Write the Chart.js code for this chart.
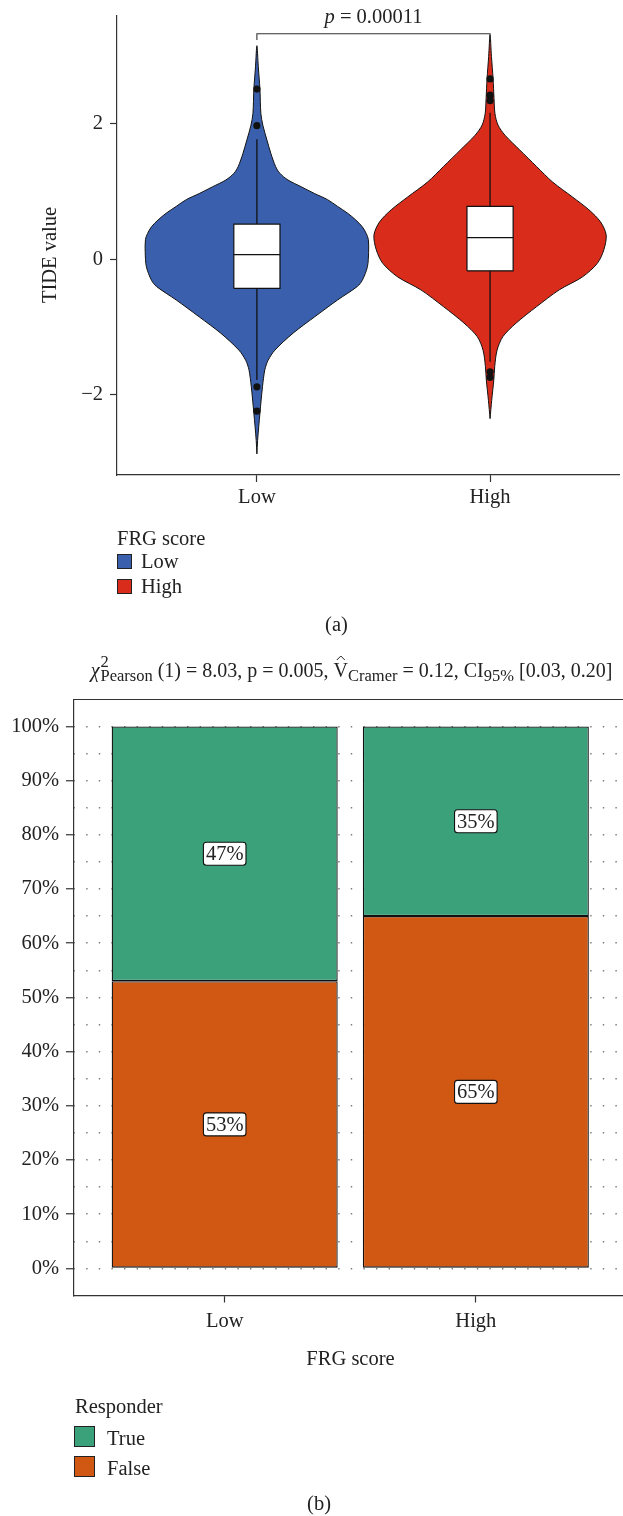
<!DOCTYPE html>
<html>
<head>
<meta charset="utf-8">
<script src="https://cdn.jsdelivr.net/npm/chart.js@4.4.1/dist/chart.umd.min.js"></script>
<style>
  html, body { margin: 0; padding: 0; background: #ffffff; }
  #wrap { position: relative; width: 623px; height: 1516px; overflow: hidden; }
  #ca { position: absolute; left: 0; top: 0; }
  #cb { position: absolute; left: 0; top: 640px; }
</style>
</head>
<body>
<div id="wrap">
  <canvas id="ca" width="623" height="640"></canvas>
  <canvas id="cb" width="623" height="876"></canvas>
</div>
<script>
// ================= Panel (a) data =================
const groups = ['Low', 'High'];
const legendTitleA = 'FRG score';
const yTitleA = 'TIDE value';
const yTicksA = [-2, 0, 2];
const pValueA = '0.00011';

// violin outlines: value levels (top -> bottom) and half-widths (x units)
const lowViolinY  = [3.15, 2.84, 2.51, 2.15, 1.97, 1.76, 1.56, 1.37, 1.27, 1.17, 1.07, 0.97, 0.88, 0.78, 0.68, 0.58, 0.48, 0.38, 0.29, 0.10, -0.11, -0.31, -0.40, -0.60, -0.85, -1.09, -1.34, -1.49, -1.63, -1.88, -2.27, -2.67, -2.87];
const lowViolinHW = [0, 0.006, 0.013, 0.017, 0.026, 0.043, 0.060, 0.080, 0.098, 0.133, 0.190, 0.247, 0.303, 0.346, 0.389, 0.424, 0.452, 0.469, 0.478, 0.479, 0.474, 0.452, 0.431, 0.346, 0.247, 0.155, 0.077, 0.048, 0.034, 0.024, 0.013, 0.003, 0];
const highViolinY  = [3.31, 2.99, 2.66, 2.37, 2.15, 1.98, 1.83, 1.61, 1.37, 1.14, 0.92, 0.73, 0.55, 0.36, 0.14, -0.06, -0.26, -0.45, -0.70, -0.94, -1.14, -1.34, -1.58, -1.78, -2.08, -2.35];
const highViolinHW = [0, 0.006, 0.013, 0.017, 0.021, 0.034, 0.064, 0.128, 0.199, 0.268, 0.353, 0.424, 0.474, 0.498, 0.488, 0.460, 0.396, 0.297, 0.199, 0.112, 0.055, 0.030, 0.020, 0.016, 0.007, 0];

// box stats: [lower whisker, Q1, median, Q3, upper whisker]
const lowBox  = [-1.78, -0.43, 0.07, 0.52, 1.77];
const highBox = [-1.51, -0.17, 0.32, 0.78, 2.16];
const lowOutliers  = [2.51, 1.97, -1.88, -2.24];
const highOutliers = [2.66, 2.42, 2.34, -1.66, -1.74];
const bracketY = [3.235, 3.327];

// ================= Panel (b) data =================
const frgCategories = ['Low', 'High'];
const responderLevels = ['True', 'False'];
const responderTrue  = [47, 35];
const responderFalse = [53, 65];
const yTicksB = [0, 5, 10, 15, 20, 25, 30, 35, 40, 45, 50, 55, 60, 65, 70, 75, 80, 85, 90, 95, 100];
const xTitleB = 'FRG score';
const legendTitleB = 'Responder';
const statsB = { df: '1', chi: '8.03', p: '0.005', v: '0.12', ciLo: '0.03', ciHi: '0.20' };

// ================= styles =================
const FF = "'Liberation Serif', 'DejaVu Serif', serif";
const FS = 20.5;
const TEXT = '#222222';
const AXIS = '#333333';
const groupColors = ['#3A60AD', '#D92C1B'];
const responderColors = ['#3AA17B', '#D05813'];
const BOX_HW = 0.099;

Chart.defaults.font.family = FF;
Chart.defaults.font.size = FS;
Chart.defaults.color = TEXT;

// ---------- build panel (a) datasets ----------
function violinPolygon(center, ys, hws) {
  const pts = [];
  for (let i = ys.length - 1; i >= 0; i--) pts.push({ x: center + hws[i], y: ys[i] });
  for (let i = 1; i < ys.length; i++) pts.push({ x: center - hws[i], y: ys[i] });
  return pts;
}
function boxPolygon(center, q1, q3) {
  return [
    { x: center - BOX_HW, y: q1 }, { x: center + BOX_HW, y: q1 },
    { x: center + BOX_HW, y: q3 }, { x: center - BOX_HW, y: q3 },
    { x: center - BOX_HW, y: q1 }
  ];
}
const violinData = [[lowViolinY, lowViolinHW], [highViolinY, highViolinHW]];
const boxData = [lowBox, highBox];
const outlierData = [lowOutliers, highOutliers];
const datasetsA = [];
groups.forEach((g, i) => {
  const c = i + 1;
  datasetsA.push({
    label: g + ' violin', data: violinPolygon(c, violinData[i][0], violinData[i][1]),
    showLine: true, fill: 'shape', backgroundColor: groupColors[i], borderColor: '#111',
    borderWidth: 1, pointRadius: 0, tension: 0.3, order: 6
  });
  const b = boxData[i];
  datasetsA.push({
    label: g + ' whisker', data: [{ x: c, y: b[0] }, { x: c, y: b[4] }],
    showLine: true, fill: false, borderColor: '#111', borderWidth: 1.3, pointRadius: 0, order: 5
  });
  datasetsA.push({
    label: g + ' box', data: boxPolygon(c, b[1], b[3]),
    showLine: true, fill: 'shape', backgroundColor: '#ffffff', borderColor: '#111',
    borderWidth: 1.2, pointRadius: 0, tension: 0, order: 4
  });
  datasetsA.push({
    label: g + ' median', data: [{ x: c - BOX_HW, y: b[2] }, { x: c + BOX_HW, y: b[2] }],
    showLine: true, fill: false, borderColor: '#111', borderWidth: 1.2, pointRadius: 0, order: 3
  });
  datasetsA.push({
    label: g + ' outliers', data: outlierData[i].map(v => ({ x: c, y: v })),
    showLine: false, pointRadius: 3.6, pointBackgroundColor: '#111', pointBorderWidth: 0, order: 2
  });
});
datasetsA.push({
  label: 'bracket',
  data: [{ x: 1, y: bracketY[0] }, { x: 1, y: bracketY[1] }, { x: 2, y: bracketY[1] }, { x: 2, y: bracketY[0] }],
  showLine: true, fill: false, borderColor: AXIS, borderWidth: 1.1, pointRadius: 0, order: 1
});

const textPluginA = {
  id: 'textA',
  afterDraw(chart) {
    const { ctx, scales } = chart;
    const xs = scales.x, ys = scales.y;
    ctx.save();
    ctx.fillStyle = TEXT;
    // y title
    ctx.save();
    ctx.translate(51, 255);
    ctx.rotate(-Math.PI / 2);
    ctx.font = `${FS}px ${FF}`;
    ctx.textAlign = 'center';
    ctx.textBaseline = 'middle';
    ctx.fillText(yTitleA, 0, 0);
    ctx.restore();
    // p-value
    const cx = (xs.getPixelForValue(1) + xs.getPixelForValue(2)) / 2;
    const by = ys.getPixelForValue(bracketY[1]) - 10.5;
    ctx.textBaseline = 'alphabetic';
    ctx.font = `italic ${FS}px ${FF}`;
    const pw = ctx.measureText('p').width;
    ctx.font = `${FS}px ${FF}`;
    const rest = ' = ' + pValueA;
    const rw = ctx.measureText(rest).width;
    const x0 = cx - (pw + rw) / 2;
    ctx.font = `italic ${FS}px ${FF}`;
    ctx.textAlign = 'left';
    ctx.fillText('p', x0, by);
    ctx.font = `${FS}px ${FF}`;
    ctx.fillText(rest, x0 + pw, by);
    // legend
    ctx.fillText(legendTitleA, 117, 545);
    groups.forEach((g, i) => {
      const cy = 561.5 + 25 * i;
      ctx.fillStyle = groupColors[i];
      ctx.fillRect(117, cy - 7.5, 15, 15);
      ctx.strokeStyle = '#222';
      ctx.lineWidth = 1;
      ctx.strokeRect(117.5, cy - 7, 14, 14);
      ctx.fillStyle = TEXT;
      ctx.fillText(g, 141, cy + 6.5);
    });
    // panel label
    ctx.textAlign = 'center';
    ctx.fillText('(a)', 336.5, 631);
    ctx.restore();
  }
};

new Chart(document.getElementById('ca'), {
  type: 'scatter',
  data: { datasets: datasetsA },
  options: {
    responsive: false, animation: false, devicePixelRatio: 1,
    layout: { padding: { top: 16, right: 0, bottom: 125, left: 0 } },
    plugins: { legend: { display: false }, tooltip: { enabled: false } },
    scales: {
      x: {
        type: 'linear', min: 0.4, max: 2.553,
        afterBuildTicks: s => { s.ticks = groups.map((g, i) => ({ value: i + 1 })); },
        afterFit: s => { s.height = 40; s.paddingLeft = 0; s.paddingRight = 0; },
        ticks: { callback: v => groups[v - 1], padding: 3, color: TEXT, font: { size: FS, family: FF }, maxRotation: 0, autoSkip: false },
        grid: { display: true, offset: false, drawOnChartArea: false, drawTicks: true, tickLength: 7, tickColor: AXIS, tickWidth: 1.2 },
        border: { display: true, color: AXIS, width: 1.2 }
      },
      y: {
        type: 'linear', min: -3.181, max: 3.588,
        afterBuildTicks: s => { s.ticks = yTicksA.map(v => ({ value: v })); },
        afterFit: s => { s.width = 117; s.paddingTop = 0; s.paddingBottom = 0; },
        ticks: { callback: v => (v < 0 ? '\u2212' + Math.abs(v) : String(v)), padding: 7, color: TEXT, font: { size: FS, family: FF } },
        grid: { display: true, drawOnChartArea: false, drawTicks: true, tickLength: 7, tickColor: AXIS, tickWidth: 1.2 },
        border: { display: true, color: AXIS, width: 1.2 }
      }
    }
  },
  plugins: [textPluginA]
});

// ---------- panel (b) ----------
const textPluginB = {
  id: 'textB',
  afterDatasetsDraw(chart) {
    const { ctx } = chart;
    ctx.save();
    ctx.font = `${FS}px ${FF}`;
    chart.data.datasets.forEach((ds, di) => {
      const meta = chart.getDatasetMeta(di);
      meta.data.forEach((el, i) => {
        const v = ds.data[i].y;
        const txt = Math.round(v) + '%';
        const cx = el.x, cy = (el.y + el.base) / 2;
        const w = ctx.measureText(txt).width + 5, h = 23;
        ctx.beginPath();
        ctx.roundRect(cx - w / 2, cy - h / 2, w, h, 3);
        ctx.fillStyle = '#ffffff';
        ctx.fill();
        ctx.strokeStyle = '#111';
        ctx.lineWidth = 1.1;
        ctx.stroke();
        ctx.fillStyle = TEXT;
        ctx.textAlign = 'center';
        ctx.textBaseline = 'middle';
        ctx.fillText(txt, cx, cy + 1);
      });
    });
    ctx.restore();
  },
  afterDraw(chart) {
    const { ctx, chartArea } = chart;
    ctx.save();
    // top frame line
    ctx.strokeStyle = AXIS;
    ctx.lineWidth = 1.2;
    ctx.beginPath();
    ctx.moveTo(chartArea.left, Math.round(chartArea.top) + 0.5);
    ctx.lineTo(chartArea.right, Math.round(chartArea.top) + 0.5);
    ctx.stroke();

    ctx.fillStyle = TEXT;
    ctx.textBaseline = 'alphabetic';
    ctx.textAlign = 'left';
    // title with sub/superscripts
    const main = `20px ${FF}`, small = `16.5px ${FF}`, ital = `italic 20px ${FF}`;
    const parts = [
      { t: '\u03C7', f: ital, dy: 0 },
      { stack: true, sup: '2', sub: 'Pearson' },
      { t: ' (' + statsB.df + ') = ' + statsB.chi + ', p = ' + statsB.p + ', ', f: main, dy: 0 },
      { t: 'V', f: main, dy: 0, hat: true },
      { t: 'Cramer', f: small, dy: 4 },
      { t: ' = ' + statsB.v + ', CI', f: main, dy: 0 },
      { t: '95%', f: small, dy: 4 },
      { t: ' [' + statsB.ciLo + ', ' + statsB.ciHi + ']', f: main, dy: 0 }
    ];
    const widthOf = p => {
      if (p.stack) {
        ctx.font = small;
        return Math.max(ctx.measureText(p.sup).width, ctx.measureText(p.sub).width) + 1;
      }
      ctx.font = p.f;
      return ctx.measureText(p.t).width;
    };
    const total = parts.reduce((s, p) => s + widthOf(p), 0);
    let x = (chartArea.left + chartArea.right) / 2 + 3 - total / 2;
    const base = 37;
    parts.forEach(p => {
      const w = widthOf(p);
      if (p.stack) {
        ctx.font = small;
        ctx.fillText(p.sup, x + 1, base - 10);
        ctx.fillText(p.sub, x + 1, base + 4);
      } else {
        ctx.font = p.f;
        ctx.fillText(p.t, x, base + p.dy);
        if (p.hat) {
          const hx = x + w / 2;
          ctx.strokeStyle = TEXT;
          ctx.lineWidth = 1;
          ctx.beginPath();
          ctx.moveTo(hx - 4, base - 17);
          ctx.lineTo(hx, base - 21);
          ctx.lineTo(hx + 4, base - 17);
          ctx.stroke();
        }
      }
      x += w;
    });

    // x title
    ctx.font = `${FS}px ${FF}`;
    ctx.textAlign = 'center';
    ctx.fillText(xTitleB, (chartArea.left + chartArea.right) / 2 + 2, 725);
    // legend
    ctx.textAlign = 'left';
    ctx.fillText(legendTitleB, 75, 773);
    responderLevels.forEach((lv, i) => {
      const top = 786 + 30 * i;
      ctx.fillStyle = responderColors[i];
      ctx.fillRect(74, top, 21, 21);
      ctx.strokeStyle = '#222';
      ctx.lineWidth = 1;
      ctx.strokeRect(74.5, top + 0.5, 20, 20);
      ctx.fillStyle = TEXT;
      ctx.fillText(lv, 107, top + 19);
    });
    // panel label
    ctx.textAlign = 'center';
    ctx.fillText('(b)', 319, 870);
    ctx.restore();
  }
};

const barValues = [responderTrue, responderFalse];
new Chart(document.getElementById('cb'), {
  type: 'bar',
  data: {
    datasets: [1, 0].map(k => ({
      label: responderLevels[k],
      data: frgCategories.map((c, i) => ({ x: i + 1, y: barValues[k][i] })),
      backgroundColor: responderColors[k],
      borderColor: '#111111',
      borderWidth: 1.3,
      borderSkipped: false,
      inflateAmount: 0,
      categoryPercentage: 1,
      barPercentage: 0.9
    }))
  },
  options: {
    responsive: false, animation: false, devicePixelRatio: 1,
    layout: { padding: { top: 59.3, right: 0, bottom: 180.5, left: 0 } },
    plugins: { legend: { display: false }, tooltip: { enabled: false } },
    scales: {
      x: {
        type: 'linear', stacked: true, min: 0.4, max: 2.586, offset: false,
        afterBuildTicks: s => { s.ticks = frgCategories.map((c, i) => ({ value: i + 1 })); },
        afterFit: s => { s.height = 40; s.paddingLeft = 0; s.paddingRight = 0; },
        ticks: { callback: v => frgCategories[v - 1], padding: 6.5, color: TEXT, font: { size: FS, family: FF }, maxRotation: 0, autoSkip: false },
        grid: { display: true, offset: false, drawOnChartArea: false, drawTicks: true, tickLength: 7, tickColor: AXIS, tickWidth: 1.2 },
        border: { display: true, color: AXIS, width: 1.2 }
      },
      y: {
        type: 'linear', stacked: true, min: -5, max: 105,
        afterBuildTicks: s => { s.ticks = yTicksB.map(v => ({ value: v })); },
        afterFit: s => { s.width = 74; s.paddingTop = 0; s.paddingBottom = 0; },
        ticks: { callback: v => (v % 10 === 0 ? v + '%' : ''), padding: 7, color: TEXT, font: { size: FS, family: FF }, autoSkip: false },
        grid: {
          display: true, offset: false, drawOnChartArea: true, drawTicks: true, tickLength: 8, lineWidth: 1.5, color: '#7a7a7a',
          tickColor: c => (c.tick && c.tick.value % 10 === 0 ? AXIS : 'rgba(0,0,0,0)'), tickWidth: 1.2
        },
        border: { display: true, color: AXIS, width: 1.2, dash: [1.4, 11.2], dashOffset: 0.6 }
      }
    }
  },
  plugins: [textPluginB]
});
</script>
</body>
</html>
